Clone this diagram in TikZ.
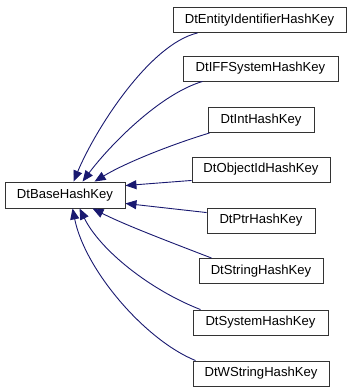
\documentclass[tikz,border=0pt]{standalone}
\usepackage{fontspec}
\setmainfont{Liberation Sans}
\usetikzlibrary{arrows.meta}
\definecolor{edgeblue}{HTML}{191970}
\begin{document}
\begin{tikzpicture}[x=1pt,y=-1pt,
  cls/.style={draw=black!80, line width=0.9pt, fill=white, minimum height=25pt, inner sep=0pt,
    font=\fontsize{13.1}{15}\selectfont},
  inh/.style={draw=edgeblue, line width=0.9pt, -{Triangle[length=11pt,width=9pt]}}]
\useasboundingbox (0,0) rectangle (355,392);
\node[cls, minimum width=120pt, minimum height=26pt] (base) at (65,195) {DtBaseHashKey};
\node[cls, minimum width=173pt] (e1) at (259.5,20) {DtEntityIdentifierHashKey};
\node[cls, minimum width=155pt] (e2) at (260.5,68.5) {DtIFFSystemHashKey};
\node[cls, minimum width=106pt] (e3) at (261,120) {DtIntHashKey};
\node[cls, minimum width=138pt] (e4) at (261,169.5) {DtObjectIdHashKey};
\node[cls, minimum width=108pt] (e5) at (261,220.5) {DtPtrHashKey};
\node[cls, minimum width=124pt] (e6) at (261,271) {DtStringHashKey};
\node[cls, minimum width=135pt] (e7) at (260.5,322.5) {DtSystemHashKey};
\node[cls, minimum width=136pt] (e8) at (261,373.5) {DtWStringHashKey};
\draw[inh] ([xshift=25pt]e1.south west) .. controls (150,44) and (96,128) .. ([xshift=69pt]base.north west);
\draw[inh] ([xshift=20pt]e2.south west) .. controls (160,94) and (110,145) .. ([xshift=78pt]base.north west);
\draw[inh] ([xshift=2pt]e3.south west) .. controls (170,145) and (125,163) .. ([xshift=90pt]base.north west);
\draw[inh] ([yshift=2pt]e4.south west) -- ([yshift=-4pt]base.north east);
\draw[inh] ([yshift=-5pt]e5.north west) -- ([yshift=5pt]base.south east);
\draw[inh] ([xshift=13pt]e6.north west) .. controls (170,242) and (125,225) .. ([xshift=88pt]base.south west);
\draw[inh] ([xshift=8pt]e7.north west) .. controls (150,290) and (100,250) .. ([xshift=75pt]base.south west);
\draw[inh] ([xshift=3pt]e8.north west) .. controls (145,340) and (85,270) .. ([xshift=68pt]base.south west);
\end{tikzpicture}
\end{document}
